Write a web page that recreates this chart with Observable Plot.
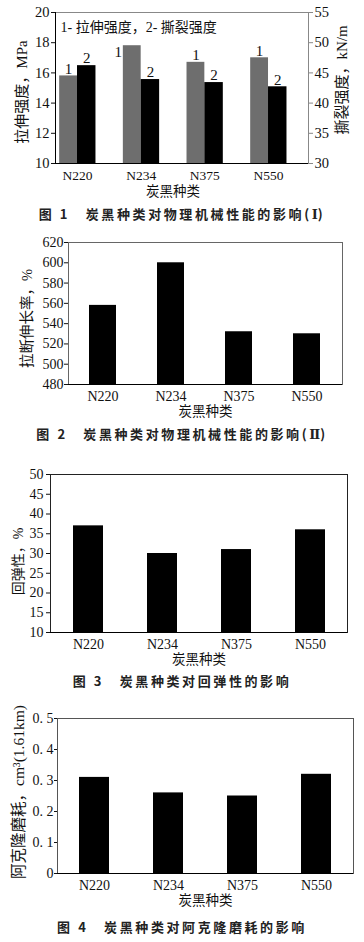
<!DOCTYPE html>
<html>
<head>
<meta charset="utf-8">
<script src="https://cdn.jsdelivr.net/npm/d3@7"></script>
<script src="https://cdn.jsdelivr.net/npm/@observablehq/plot@0.6"></script>
<style>
  html, body { margin: 0; padding: 0; background: #fff; }
  #root { position: relative; width: 364px; height: 942px; background: #fff; overflow: hidden; }
  .chart { position: absolute; left: 0; }
  .cap { position: absolute; left: 0; width: 364px; text-align: center; font-family: "Noto Sans CJK SC", sans-serif;
         font-weight: bold; font-size: 13px; letter-spacing: 2.6px; line-height: 16px; color: #222; white-space: nowrap; }
  .cap .rn { font-family: "DejaVu Serif", "Liberation Serif", serif; letter-spacing: 0; }
</style>
</head>
<body>
<div id="root"></div>
<script>
// ---- data ----
const categories = ["N220", "N234", "N375", "N550"];
const tensile = [15.8, 17.8, 16.7, 17.0];      // 拉伸强度, MPa (left axis)
const tear = [46.2, 43.9, 43.4, 42.7];         // 撕裂强度, kN/m (right axis)
const elongation = [558, 600, 532, 530];       // 拉断伸长率, %
const resilience = [37, 30, 31, 36];           // 回弹性, %
const abrasion = [0.31, 0.26, 0.25, 0.32];     // 阿克隆磨耗, cm3(1.61km)
const tensileTicks = [10, 12, 14, 16, 18, 20];
const tearTicks = [30, 35, 40, 45, 50, 55];
const elongationTicks = [480, 500, 520, 540, 560, 580, 600, 620];
const resilienceTicks = [10, 15, 20, 25, 30, 35, 40, 45, 50];
const abrasionTicks = [0, 0.1, 0.2, 0.3, 0.4, 0.5];
const captions = [
  ["图 1\u3000炭黑种类对物理机械性能的影响(", "Ⅰ", ")"],
  ["图 2\u3000炭黑种类对物理机械性能的影响(", "Ⅱ", ")"],
  ["图 3\u3000炭黑种类对回弹性的影响", "", ""],
  ["图 4\u3000炭黑种类对阿克隆磨耗的影响", "", ""]
];

const rows = categories.map((cat, i) => ({
  cat, i, tensile: tensile[i], tear: tear[i],
  elong: elongation[i], resil: resilience[i], abr: abrasion[i]
}));

const FONT = "'Liberation Serif', 'Noto Sans CJK SC', serif";
const baseStyle = { fontFamily: FONT, fontSize: "14px", color: "#111", background: "#fff", overflow: "visible" };
const root = document.getElementById("root");

function place(svg, top) {
  const d = document.createElement("div");
  d.className = "chart";
  d.style.top = top + "px";
  d.appendChild(svg);
  root.appendChild(d);
}
function caption(parts, top) {
  const d = document.createElement("div");
  d.className = "cap";
  d.style.top = top + "px";
  d.appendChild(document.createTextNode(parts[0]));
  if (parts[1]) {
    const s = document.createElement("span");
    s.className = "rn";
    s.textContent = parts[1];
    d.appendChild(s);
    d.appendChild(document.createTextNode(parts[2]));
  }
  root.appendChild(d);
}

const center = { textAnchor: "middle", lineAnchor: "middle" };

// ---- chart 1: dual axis grouped bars ----
const tensileDomain = [10, 20];
const tearDomain = [30, 55];
const tearToLeft = d3.scaleLinear().domain(tearDomain).range(tensileDomain);
const xDomain1 = [-0.3455, 3.628];
const w1 = 0.28, w2 = 0.29;

const chart1 = Plot.plot({
  width: 364, height: 200,
  marginTop: 12, marginBottom: 37, marginLeft: 55, marginRight: 56,
  x: { domain: xDomain1 },
  y: { domain: tensileDomain },
  style: baseStyle,
  marks: [
    Plot.rect(rows, { x1: d => d.i - w1, x2: d => d.i, y1: tensileDomain[0], y2: "tensile", fill: "#6e6e6e" }),
    Plot.rect(rows, { x1: d => d.i, x2: d => d.i + w2, y1: tensileDomain[0], y2: d => tearToLeft(d.tear), fill: "#000" }),
    Plot.frame({ stroke: "#888" }),
    Plot.ruleY([tensileDomain[0]], { stroke: "#000" }),
    Plot.ruleX([xDomain1[0]], { stroke: "#000" }),
    Plot.axisY({ ticks: tensileTicks, tickSize: 4, tickPadding: 2, label: null, fontSize: 14.5 }),
    Plot.axisY({ anchor: "right", ticks: tearTicks.map(t => tearToLeft(t)), tickSize: 4, tickPadding: 2,
      tickFormat: d => Math.round(tearToLeft.invert(d)), label: null, fontSize: 14.5, stroke: "#888" }),
    Plot.axisX({ ticks: [0, 1, 2, 3], tickFormat: i => categories[i], tickSize: 0, tickPadding: 7, label: null, fontSize: 13.5 }),
    Plot.text(rows.filter(d => d.tensile <= 17.5), { x: d => d.i - w1 / 2, y: "tensile", text: () => "1", dy: -7, fontSize: 15 }),
    Plot.text(rows.filter(d => d.tensile > 17.5), { x: d => d.i - w1 / 2, y: "tensile", text: () => "1", dx: -14, dy: 6, fontSize: 15 }),
    Plot.text(rows, { x: d => d.i + w2 / 2, y: d => tearToLeft(d.tear), text: () => "2", dy: -7, fontSize: 15 }),
    Plot.text(["1- 拉伸强度，2- 撕裂强度"], { frameAnchor: "top-left", dx: 5, dy: 15, textAnchor: "start", lineAnchor: "middle", fontSize: 14 }),
    Plot.text(["拉伸强度，MPa"], { frameAnchor: "left", rotate: -90, dx: -33, dy: 4, fontSize: 15, ...center }),
    Plot.text(["撕裂强度，kN/m"], { frameAnchor: "right", rotate: -90, dx: 34, dy: -8, fontSize: 15, ...center }),
    Plot.text(["炭黑种类"], { x: (categories.length - 1) / 2, frameAnchor: "bottom", dy: 28, fontSize: 13.5, ...center })
  ]
});
place(chart1, 0);
caption(captions[0], 206);

// ---- generic single-series bar chart ----
function barChart({ key, domain, ticks, tickFormat, title, titleSize, ml, mr, tickSize, tickPadding, titleDx, titleDy, frameStroke, height, mb }) {
  return Plot.plot({
    width: 364, height,
    marginTop: 12, marginBottom: mb, marginLeft: ml, marginRight: mr,
    x: { type: "band", domain: categories, paddingInner: 0.6, paddingOuter: 0.3 },
    y: { domain },
    style: baseStyle,
    marks: [
      Plot.barY(rows, { x: "cat", y1: domain[0], y2: key, fill: "#000" }),
      Plot.frame({ stroke: frameStroke }),
      Plot.ruleY([domain[0]], { stroke: "#000" }),
      Plot.axisY({ ticks, tickFormat, tickSize, tickPadding, label: null, fontSize: 14 }),
      Plot.axisX({ tickSize: 0, tickPadding: 7, label: null, fontSize: 14 }),
      Plot.text([title], { frameAnchor: "left", rotate: -90, dx: titleDx, dy: titleDy, fontSize: titleSize, ...center }),
      Plot.text(["炭黑种类"], { frameAnchor: "bottom", dy: 27, fontSize: 13.5, ...center })
    ]
  });
}

const chart2 = barChart({
  key: "elong", domain: [480, 620], ticks: elongationTicks, tickFormat: d => d,
  title: "拉断伸长率，%", titleSize: 14.5, ml: 68, mr: 22, tickSize: 4, tickPadding: 1, titleDx: -41, titleDy: 5,
  frameStroke: "#666", height: 200, mb: 46
});
place(chart2, 230);
caption(captions[1], 426);

const chart3 = barChart({
  key: "resil", domain: [10, 50], ticks: resilienceTicks, tickFormat: d => d,
  title: "回弹性，%", titleSize: 14, ml: 50, mr: 17, tickSize: 4, tickPadding: 3, titleDx: -32, titleDy: 8,
  frameStroke: "#222", height: 206, mb: 36
});
place(chart3, 462);
caption(captions[2], 673);

const chart4 = barChart({
  key: "abr", domain: [0, 0.5], ticks: abrasionTicks,
  tickFormat: d => d === 0 ? "0" : d.toFixed(1).replace(".", ". "),
  title: "阿克隆磨耗，cm³(1.61km)", titleSize: 15.5, ml: 57, mr: 11, tickSize: 3, tickPadding: 1, titleDx: -38, titleDy: -4,
  frameStroke: "#555", height: 200, mb: 33
});
place(chart4, 706);
caption(captions[3], 919);
</script>
</body>
</html>
